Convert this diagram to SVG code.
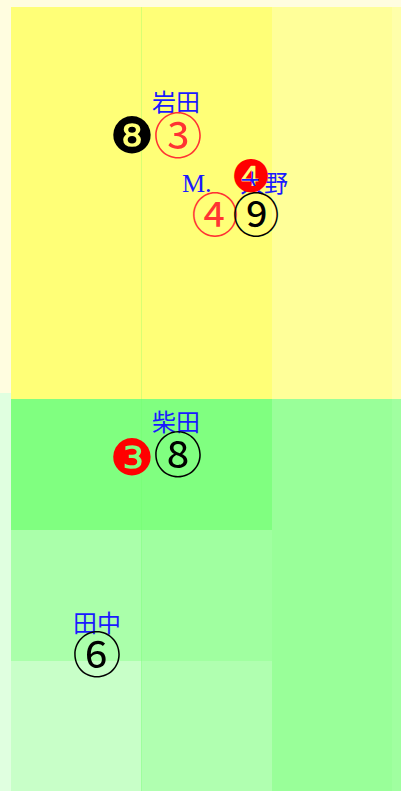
<svg xmlns="http://www.w3.org/2000/svg" width="401" height="791" viewBox="0 0 401 791">
<style>
.lbl{font-family:"Liberation Serif","Noto Sans CJK JP",serif;font-size:24px;fill:#1a1aff;text-anchor:middle}
.num{font-family:"Noto Sans CJK JP","DejaVu Sans",sans-serif;text-anchor:middle;dominant-baseline:central}
.dng{font-family:"DejaVu Sans",sans-serif;text-anchor:middle;dominant-baseline:central}
.sep{stroke:#66ff66;stroke-width:1;opacity:0.25}
</style>
<g id="background">
<rect x="0" y="0" width="401" height="393" fill="#fffde0"/>
<rect x="0" y="393" width="401" height="398" fill="#e0ffe0"/>
<rect x="11" y="7" width="261" height="392" fill="#ffff77"/>
<rect x="272" y="7" width="120" height="392" fill="#ffff99"/>
<rect x="392" y="7" width="9" height="392" fill="#ffffaa"/>
<rect x="11" y="399" width="261" height="131" fill="#80ff80"/>
<rect x="272" y="399" width="120" height="392" fill="#99ff99"/>
<rect x="392" y="399" width="9" height="392" fill="#a0ffa0"/>
<rect x="11" y="530" width="130" height="131" fill="#aaffaa"/>
<rect x="141" y="530" width="131" height="131" fill="#a0ffa0"/>
<rect x="11" y="661" width="130" height="130" fill="#c8ffc8"/>
<rect x="141" y="661" width="131" height="130" fill="#b0ffb0"/>
<line class="sep" x1="141.5" y1="7" x2="141.5" y2="791"/>
</g>
<g id="iwata">
<text class="lbl" x="176" y="111">岩田</text>
<text class="dng" x="132" y="136" font-size="50" fill="#000">❽</text>
<text class="num" x="178" y="132" font-size="49" fill="#ff3333">③</text>
</g>
<g id="ohno">
<text class="lbl" x="182" y="192" style="text-anchor:start"><tspan font-size="26">M.</tspan><tspan x="240">大野</tspan></text>
<text class="dng" x="251" y="176" font-size="45" fill="#ff0000">❹</text>
<text class="num" x="215" y="211" font-size="47" fill="#ff3333">④</text>
<text class="num" x="256" y="211" font-size="47" fill="#000">⑨</text>
</g>
<g id="shibata">
<text class="lbl" x="176" y="431">柴田</text>
<text class="dng" x="132" y="458" font-size="50" fill="#ff0000">❸</text>
<text class="num" x="178" y="451" font-size="49" fill="#000">⑧</text>
</g>
<g id="tanaka">
<text class="lbl" x="97" y="632">田中</text>
<text class="num" x="97" y="651" font-size="49" fill="#000">⑥</text>
</g>
<g id="connectors"></g>
</svg>
